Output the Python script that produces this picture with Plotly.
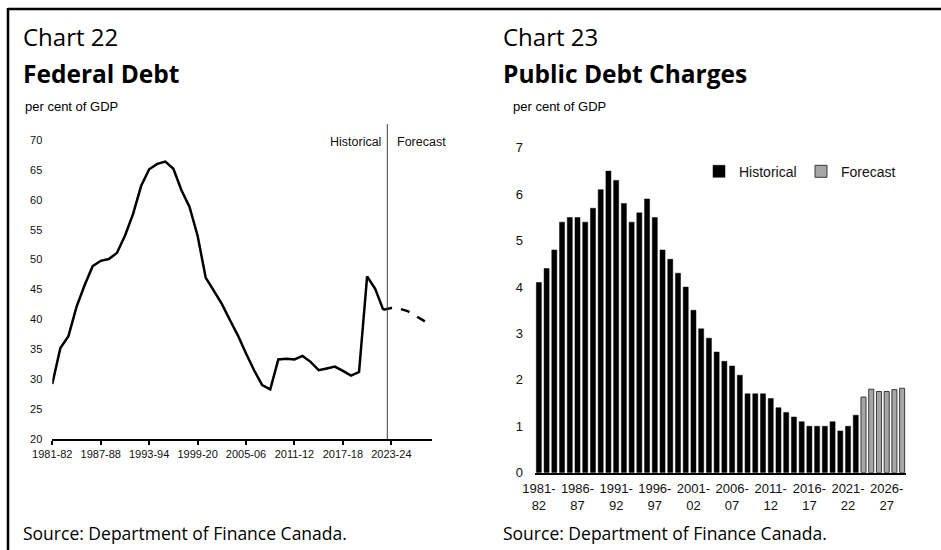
import plotly.graph_objects as go

# ---------------- data ----------------
fiscal_years = [
    "1981-82", "1982-83", "1983-84", "1984-85", "1985-86", "1986-87", "1987-88", "1988-89",
    "1989-90", "1990-91", "1991-92", "1992-93", "1993-94", "1994-95", "1995-96", "1996-97",
    "1997-98", "1998-99", "1999-00", "2000-01", "2001-02", "2002-03", "2003-04", "2004-05",
    "2005-06", "2006-07", "2007-08", "2008-09", "2009-10", "2010-11", "2011-12", "2012-13",
    "2013-14", "2014-15", "2015-16", "2016-17", "2017-18", "2018-19", "2019-20", "2020-21",
    "2021-22", "2022-23", "2023-24", "2024-25", "2025-26", "2026-27", "2027-28", "2028-29",
]

# Chart 22 - Federal debt, per cent of GDP
debt_historical = [
    29.2, 35.2, 37.2, 42.1, 45.7, 48.9, 49.8, 50.1, 51.1, 54.0, 57.6, 62.3,
    65.1, 66.0, 66.4, 65.2, 61.6, 58.8, 54.0, 47.0, 44.8, 42.6, 39.9, 37.3,
    34.3, 31.5, 29.0, 28.3, 33.3, 33.4, 33.3, 33.9, 32.9, 31.5, 31.8, 32.1,
    31.4, 30.6, 31.2, 47.2, 45.1, 41.6,
]
debt_forecast = [41.9, 41.8, 41.4, 40.6, 39.8, 38.8]

left_tick_years = ["1981-82", "1987-88", "1993-94", "1999-00", "2005-06", "2011-12", "2017-18", "2023-24"]
left_tick_labels = ["1981-82", "1987-88", "1993-94", "1999-20", "2005-06", "2011-12", "2017-18", "2023-24"]

# Chart 23 - Public debt charges, per cent of GDP
charges_historical = [
    4.1, 4.4, 4.8, 5.4, 5.5, 5.5, 5.4, 5.7, 6.1, 6.5, 6.3, 5.8, 5.4, 5.6,
    5.9, 5.5, 4.8, 4.6, 4.3, 4.0, 3.5, 3.1, 2.9, 2.6, 2.4, 2.3, 2.1, 1.7,
    1.7, 1.7, 1.6, 1.4, 1.3, 1.2, 1.1, 1.0, 1.0, 1.0, 1.1, 0.9, 1.0, 1.24,
]
charges_forecast = [1.63, 1.80, 1.75, 1.75, 1.79, 1.82]

right_tick_years = ["1981-82", "1986-87", "1991-92", "1996-97", "2001-02",
                    "2006-07", "2011-12", "2016-17", "2021-22", "2026-27"]
right_tick_labels = ["1981-<br>82", "1986-<br>87", "1991-<br>92", "1996-<br>97", "2001-<br>02",
                     "2006-<br>07", "2011-<br>12", "2016-<br>17", "2021-<br>22", "2026-<br>27"]

n_hist = len(debt_historical)

# ---------------- figure ----------------
W, H = 941, 550
def px(x):
    return x / W
def py(y):
    return 1 - y / H

TITLE_FONT = "Open Sans"
AX_FONT = "Liberation Sans"

fig = go.Figure()

# Chart 22 lines
fig.add_trace(go.Scatter(
    x=fiscal_years[:n_hist], y=debt_historical, mode="lines",
    line=dict(color="black", width=2.5), showlegend=False,
    xaxis="x", yaxis="y", hoverinfo="x+y"))
fig.add_trace(go.Scatter(
    x=fiscal_years[n_hist - 1:], y=[debt_historical[-1]] + debt_forecast, mode="lines",
    line=dict(color="black", width=2.5, dash="dash"), showlegend=False,
    xaxis="x", yaxis="y", hoverinfo="x+y"))

# Chart 23 bars
fig.add_trace(go.Bar(
    x=fiscal_years[:n_hist], y=charges_historical, name="Historical",
    marker=dict(color="black", line=dict(color="black", width=0.5)),
    xaxis="x3", yaxis="y3"))
fig.add_trace(go.Bar(
    x=fiscal_years[n_hist:], y=charges_forecast, name="Forecast",
    marker=dict(color="#a6a6a6", line=dict(color="#3a3a3a", width=1)),
    xaxis="x3", yaxis="y3"))

left_dom = [px(52.3), px(431.7)]
right_dom = [px(535), px(906)]

fig.update_layout(
    width=W, height=H,
    margin=dict(l=0, r=0, t=0, b=0, pad=0, autoexpand=False),
    paper_bgcolor="white", plot_bgcolor="white",
    barmode="overlay", bargap=0.35,
    font=dict(family=AX_FONT, color="#111"),
    xaxis=dict(
        domain=left_dom, anchor="y", type="category", automargin=False,
        categoryorder="array", categoryarray=fiscal_years,
        range=[0, len(fiscal_years) - 1],
        tickmode="array", tickvals=left_tick_years, ticktext=left_tick_labels,
        ticks="outside", ticklen=4, tickcolor="black", tickwidth=1.5,
        showline=True, linecolor="black", linewidth=2,
        showgrid=False, zeroline=False,
        tickfont=dict(size=11, family=AX_FONT, color="#111"), tickangle=0,
    ),
    yaxis=dict(
        domain=[py(439), py(140)], anchor="x", automargin=False,
        range=[20, 70], tickmode="linear", tick0=20, dtick=5,
        showline=False, showgrid=False, zeroline=False, ticks="",
        ticklabelstandoff=9,
        tickfont=dict(size=11, family=AX_FONT, color="#111"),
    ),
    xaxis3=dict(
        domain=right_dom, anchor="y3", type="category", automargin=False,
        categoryorder="array", categoryarray=fiscal_years,
        range=[-0.5, len(fiscal_years) - 0.5],
        tickmode="array", tickvals=right_tick_years, ticktext=right_tick_labels,
        ticks="", showline=True, linecolor="black", linewidth=2,
        showgrid=False, zeroline=False, tickangle=0, ticklabelstandoff=3,
        tickfont=dict(size=13, family=AX_FONT, color="#111"),
    ),
    xaxis4=dict(
        overlaying="x3", anchor="y3", type="linear", automargin=False,
        range=[-0.5, len(fiscal_years) - 0.5],
        tickmode="linear", tick0=-0.5, dtick=5,
        ticks="outside", ticklen=4, tickcolor="black", tickwidth=1.5,
        showticklabels=False, showline=False, showgrid=False, zeroline=False,
    ),
    yaxis3=dict(
        domain=[py(472.7), py(147.9)], anchor="x3", automargin=False,
        range=[0, 7], tickmode="linear", tick0=0, dtick=1,
        showline=False, showgrid=False, zeroline=False, ticks="",
        ticklabelstandoff=11,
        tickfont=dict(size=13, family=AX_FONT, color="#111"),
    ),
    legend=dict(
        orientation="h", x=px(699), y=py(171.7), xanchor="left", yanchor="middle",
        font=dict(size=14, family=AX_FONT, color="#111"),
        bgcolor="rgba(0,0,0,0)", itemwidth=30, entrywidth=57, entrywidthmode="pixels",
        traceorder="normal",
    ),
)

# frame and historical/forecast divider
fig.add_shape(type="line", xref="paper", yref="paper", x0=px(8), x1=px(8), y0=0, y1=py(8),
              line=dict(color="black", width=2.5))
fig.add_shape(type="line", xref="paper", yref="paper", x0=px(8), x1=1, y0=py(9), y1=py(9),
              line=dict(color="black", width=2.5))
fig.add_shape(type="line", xref="x", yref="paper", x0=n_hist - 0.5, x1=n_hist - 0.5,
              y0=py(439), y1=py(124), line=dict(color="#404040", width=1))

ann = []
def text(x, y, s, size, family=TITLE_FONT, anchor="left", **kw):
    ann.append(dict(x=x, y=y, xref="paper", yref="paper", text=s, showarrow=False,
                    xanchor=anchor, yanchor="middle", font=dict(size=size, family=family, color="black"), **kw))

text(px(21), py(37), "Chart 22", 24)
text(px(21), py(74), "<b>Federal Debt</b>", 24.5)
text(px(23), py(106), "per cent of GDP", 13, family=AX_FONT)
text(px(21), py(533), "Source: Department of Finance Canada.", 17.5)

text(px(501), py(37), "Chart 23", 24)
text(px(501), py(74), "<b>Public Debt Charges</b>", 24.5)
text(px(511), py(106), "per cent of GDP", 13, family=AX_FONT)
text(px(501), py(533), "Source: Department of Finance Canada.", 17.5)

ann.append(dict(x=n_hist - 0.5, y=py(141.5), xref="x", yref="paper", text="Historical", showarrow=False,
                xanchor="right", yanchor="middle", xshift=-4,
                font=dict(size=12.5, family=AX_FONT, color="#111")))
ann.append(dict(x=n_hist - 0.5, y=py(141.5), xref="x", yref="paper", text="Forecast", showarrow=False,
                xanchor="left", yanchor="middle", xshift=8,
                font=dict(size=12.5, family=AX_FONT, color="#111")))
fig.update_layout(annotations=ann)

fig.write_html(
    "out.html",
    config={"displayModeBar": False},
    post_script="document.body.style.margin='0px';document.body.style.padding='0px';"
                "document.body.style.overflow='hidden';",
)
